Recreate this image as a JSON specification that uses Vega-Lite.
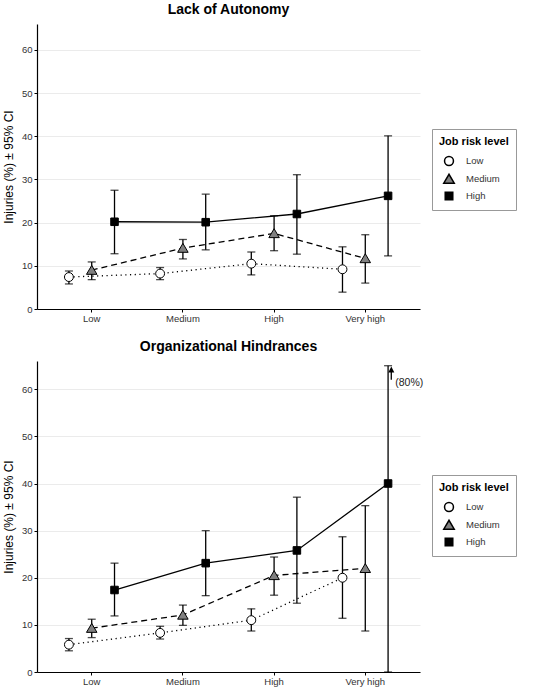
{
  "$schema": "https://vega.github.io/schema/vega-lite/v6.json",
  "padding": {"left": 2, "top": 3, "right": 5, "bottom": 3},
  "datasets": {
    "inj": [
      {"panel": "Lack of Autonomy", "exposure": "Low", "risk": "Low", "pct": 7.4, "lo": 5.8, "hi": 8.8},
      {"panel": "Lack of Autonomy", "exposure": "Medium", "risk": "Low", "pct": 8.2, "lo": 6.8, "hi": 9.6},
      {"panel": "Lack of Autonomy", "exposure": "High", "risk": "Low", "pct": 10.5, "lo": 7.9, "hi": 13.2},
      {"panel": "Lack of Autonomy", "exposure": "Very high", "risk": "Low", "pct": 9.2, "lo": 3.9, "hi": 14.4},
      {"panel": "Lack of Autonomy", "exposure": "Low", "risk": "Medium", "pct": 9.0, "lo": 6.8, "hi": 10.9},
      {"panel": "Lack of Autonomy", "exposure": "Medium", "risk": "Medium", "pct": 14.1, "lo": 11.6, "hi": 16.1},
      {"panel": "Lack of Autonomy", "exposure": "High", "risk": "Medium", "pct": 17.5, "lo": 13.5, "hi": 21.6},
      {"panel": "Lack of Autonomy", "exposure": "Very high", "risk": "Medium", "pct": 11.7, "lo": 6.0, "hi": 17.2},
      {"panel": "Lack of Autonomy", "exposure": "Low", "risk": "High", "pct": 20.2, "lo": 12.8, "hi": 27.5},
      {"panel": "Lack of Autonomy", "exposure": "Medium", "risk": "High", "pct": 20.1, "lo": 13.7, "hi": 26.6},
      {"panel": "Lack of Autonomy", "exposure": "High", "risk": "High", "pct": 22.0, "lo": 12.7, "hi": 31.1},
      {"panel": "Lack of Autonomy", "exposure": "Very high", "risk": "High", "pct": 26.2, "lo": 12.3, "hi": 40.1},
      {"panel": "Organizational Hindrances", "exposure": "Low", "risk": "Low", "pct": 5.8, "lo": 4.5, "hi": 7.1},
      {"panel": "Organizational Hindrances", "exposure": "Medium", "risk": "Low", "pct": 8.3, "lo": 7.0, "hi": 9.7},
      {"panel": "Organizational Hindrances", "exposure": "High", "risk": "Low", "pct": 11.0, "lo": 8.7, "hi": 13.4},
      {"panel": "Organizational Hindrances", "exposure": "Very high", "risk": "Low", "pct": 20.0, "lo": 11.4, "hi": 28.7},
      {"panel": "Organizational Hindrances", "exposure": "Low", "risk": "Medium", "pct": 9.3, "lo": 7.3, "hi": 11.2},
      {"panel": "Organizational Hindrances", "exposure": "Medium", "risk": "Medium", "pct": 12.1, "lo": 9.9, "hi": 14.2},
      {"panel": "Organizational Hindrances", "exposure": "High", "risk": "Medium", "pct": 20.5, "lo": 16.3, "hi": 24.4},
      {"panel": "Organizational Hindrances", "exposure": "Very high", "risk": "Medium", "pct": 22.0, "lo": 8.7, "hi": 35.3},
      {"panel": "Organizational Hindrances", "exposure": "Low", "risk": "High", "pct": 17.4, "lo": 11.9, "hi": 23.1},
      {"panel": "Organizational Hindrances", "exposure": "Medium", "risk": "High", "pct": 23.1, "lo": 16.2, "hi": 30.0},
      {"panel": "Organizational Hindrances", "exposure": "High", "risk": "High", "pct": 25.8, "lo": 14.6, "hi": 37.1},
      {"panel": "Organizational Hindrances", "exposure": "Very high", "risk": "High", "pct": 40.0, "lo": 0, "hi": 65.0}
    ],
    "note": [
      {"panel": "Organizational Hindrances", "exposure": "Very high", "risk": "High", "lo": 62.0, "hi": 64.2, "label": "(80%)"}
    ]
  },
  "vconcat": [
    {
      "title": "Lack of Autonomy",
      "width": 383,
      "height": 285,
      "data": {"name": "inj"},
      "transform": [{"filter": "datum.panel === 'Lack of Autonomy'"}],
      "encoding": {
        "x": {
          "field": "exposure",
          "type": "nominal",
          "sort": ["Low", "Medium", "High", "Very high"],
          "scale": {"type": "band", "paddingInner": 0, "paddingOuter": 0.1},
          "axis": {"title": null, "labelAngle": 0}
        },
        "xOffset": {
          "field": "risk",
          "type": "nominal",
          "scale": {"type": "point", "padding": 1.68, "domain": ["Low", "Medium", "High"]}
        },
        "y": {"field": "pct", "type": "quantitative", "title": "Injuries (%)  ± 95% CI",
              "scale": {"domain": [0, 66], "nice": false},
              "axis": {"values": [0, 10, 20, 30, 40, 50, 60]}}
      },
      "layer": [
        {
          "transform": [{"filter": "datum.risk === 'Low'"}],
          "mark": {"type": "line", "color": "black", "strokeWidth": 1.3, "strokeDash": [1.2, 3.5]}
        },
        {
          "transform": [{"filter": "datum.risk === 'Medium'"}],
          "mark": {"type": "line", "color": "black", "strokeWidth": 1.3, "strokeDash": [6, 4]}
        },
        {
          "transform": [{"filter": "datum.risk === 'High'"}],
          "mark": {"type": "line", "color": "black", "strokeWidth": 1.3}
        },
        {
          "mark": {"type": "rule", "color": "black", "strokeWidth": 1.3},
          "encoding": {
            "y": {"field": "lo", "type": "quantitative", "title": "Injuries (%)  ± 95% CI"},
            "y2": {"field": "hi"}
          }
        },
        {
          "mark": {"type": "tick", "color": "black", "size": 8, "thickness": 1.3, "orient": "horizontal"},
          "encoding": {"y": {"field": "lo", "type": "quantitative", "title": "Injuries (%)  ± 95% CI"}}
        },
        {
          "mark": {"type": "tick", "color": "black", "size": 8, "thickness": 1.3, "orient": "horizontal"},
          "encoding": {"y": {"field": "hi", "type": "quantitative", "title": "Injuries (%)  ± 95% CI"}}
        },
        {
          "mark": {"type": "point", "filled": true, "size": 110, "stroke": "black", "strokeWidth": 1, "opacity": 1},
          "encoding": {
            "fill": {"field": "risk", "type": "nominal",
                     "scale": {"domain": ["Low", "Medium", "High"], "range": ["white", "#808080", "black"]},
                     "legend": {"title": "Job risk level", "orient": "none", "legendX": 395, "legendY": 105,
                                "encode": {"symbols": {
                                  "enter": {"shape": {"signal": "datum.value === 'Low' ? 'M-0.85,0A0.85,0.85 0 1,0 0.85,0A0.85,0.85 0 1,0 -0.85,0ZM-1.65,0H-1.45M1.45,0H1.65' : datum.value === 'Medium' ? 'M-1,0.8L1,0.8L0,-0.9ZM-1.8,0.25H-0.68M0.68,0.25H1.8' : 'M-0.72,-0.72H0.72V0.72H-0.72ZM-1.8,0H-0.72M0.72,0H1.8'"}},
                                  "update": {
                                  "stroke": {"value": "black"}, "strokeWidth": {"value": 1.2},
                                  "shape": {"signal": "datum.value === 'Low' ? 'M-0.85,0A0.85,0.85 0 1,0 0.85,0A0.85,0.85 0 1,0 -0.85,0ZM-1.65,0H-1.45M1.45,0H1.65' : datum.value === 'Medium' ? 'M-1,0.8L1,0.8L0,-0.9ZM-1.8,0.25H-0.68M0.68,0.25H1.8' : 'M-0.72,-0.72H0.72V0.72H-0.72ZM-1.8,0H-0.72M0.72,0H1.8'"}}}}}},
            "shape": {"field": "risk", "type": "nominal",
                      "scale": {"domain": ["Low", "Medium", "High"],
                                "range": ["M-0.85,0A0.85,0.85 0 1,0 0.85,0A0.85,0.85 0 1,0 -0.85,0Z", "M-1,0.8L1,0.8L0,-0.9Z", "M-0.72,-0.72H0.72V0.72H-0.72Z"]},
                      "legend": {"title": "Job risk level", "orient": "none", "legendX": 395, "legendY": 105,
                                 "encode": {"symbols": {
                                   "enter": {"shape": {"signal": "datum.value === 'Low' ? 'M-0.85,0A0.85,0.85 0 1,0 0.85,0A0.85,0.85 0 1,0 -0.85,0ZM-1.65,0H-1.45M1.45,0H1.65' : datum.value === 'Medium' ? 'M-1,0.8L1,0.8L0,-0.9ZM-1.8,0.25H-0.68M0.68,0.25H1.8' : 'M-0.72,-0.72H0.72V0.72H-0.72ZM-1.8,0H-0.72M0.72,0H1.8'"}},
                                   "update": {
                                   "stroke": {"value": "black"}, "strokeWidth": {"value": 1.2},
                                   "shape": {"signal": "datum.value === 'Low' ? 'M-0.85,0A0.85,0.85 0 1,0 0.85,0A0.85,0.85 0 1,0 -0.85,0ZM-1.65,0H-1.45M1.45,0H1.65' : datum.value === 'Medium' ? 'M-1,0.8L1,0.8L0,-0.9ZM-1.8,0.25H-0.68M0.68,0.25H1.8' : 'M-0.72,-0.72H0.72V0.72H-0.72ZM-1.8,0H-0.72M0.72,0H1.8'"}}}}}}
          }
        }
      ]
    },
    {
      "title": "Organizational Hindrances",
      "width": 383,
      "height": 311,
      "encoding": {
        "x": {
          "field": "exposure",
          "type": "nominal",
          "sort": ["Low", "Medium", "High", "Very high"],
          "scale": {"type": "band", "paddingInner": 0, "paddingOuter": 0.1},
          "axis": {"title": null, "labelAngle": 0}
        },
        "y": {"field": "pct", "type": "quantitative", "title": "Injuries (%)  ± 95% CI",
              "scale": {"domain": [0, 66], "nice": false},
              "axis": {"values": [0, 10, 20, 30, 40, 50, 60]}}
      },
      "layer": [
        {
          "data": {"name": "inj"},
          "transform": [{"filter": "datum.panel === 'Organizational Hindrances'"}],
          "encoding": {
            "xOffset": {
              "field": "risk",
              "type": "nominal",
              "scale": {"type": "point", "padding": 1.68, "domain": ["Low", "Medium", "High"]}
            }
          },
          "layer": [
            {
              "transform": [{"filter": "datum.risk === 'Low'"}],
              "mark": {"type": "line", "color": "black", "strokeWidth": 1.3, "strokeDash": [1.2, 3.5]}
            },
            {
              "transform": [{"filter": "datum.risk === 'Medium'"}],
              "mark": {"type": "line", "color": "black", "strokeWidth": 1.3, "strokeDash": [6, 4]}
            },
            {
              "transform": [{"filter": "datum.risk === 'High'"}],
              "mark": {"type": "line", "color": "black", "strokeWidth": 1.3}
            },
            {
              "mark": {"type": "rule", "color": "black", "strokeWidth": 1.3},
              "encoding": {
                "y": {"field": "lo", "type": "quantitative", "title": "Injuries (%)  ± 95% CI"},
                "y2": {"field": "hi"}
              }
            },
            {
              "mark": {"type": "tick", "color": "black", "size": 8, "thickness": 1.3, "orient": "horizontal"},
              "encoding": {"y": {"field": "lo", "type": "quantitative", "title": "Injuries (%)  ± 95% CI"}}
            },
            {
              "mark": {"type": "tick", "color": "black", "size": 8, "thickness": 1.3, "orient": "horizontal"},
              "encoding": {"y": {"field": "hi", "type": "quantitative", "title": "Injuries (%)  ± 95% CI"}}
            },
            {
              "mark": {"type": "point", "filled": true, "size": 110, "stroke": "black", "strokeWidth": 1, "opacity": 1},
              "encoding": {
                "fill": {"field": "risk", "type": "nominal",
                         "scale": {"domain": ["Low", "Medium", "High"], "range": ["white", "#808080", "black"]},
                         "legend": {"title": "Job risk level", "orient": "none", "legendX": 395, "legendY": 114,
                                    "encode": {"symbols": {
                                      "enter": {"shape": {"signal": "datum.value === 'Low' ? 'M-0.85,0A0.85,0.85 0 1,0 0.85,0A0.85,0.85 0 1,0 -0.85,0ZM-1.65,0H-1.45M1.45,0H1.65' : datum.value === 'Medium' ? 'M-1,0.8L1,0.8L0,-0.9ZM-1.8,0.25H-0.68M0.68,0.25H1.8' : 'M-0.72,-0.72H0.72V0.72H-0.72ZM-1.8,0H-0.72M0.72,0H1.8'"}},
                                      "update": {
                                      "stroke": {"value": "black"}, "strokeWidth": {"value": 1.2},
                                      "shape": {"signal": "datum.value === 'Low' ? 'M-0.85,0A0.85,0.85 0 1,0 0.85,0A0.85,0.85 0 1,0 -0.85,0ZM-1.65,0H-1.45M1.45,0H1.65' : datum.value === 'Medium' ? 'M-1,0.8L1,0.8L0,-0.9ZM-1.8,0.25H-0.68M0.68,0.25H1.8' : 'M-0.72,-0.72H0.72V0.72H-0.72ZM-1.8,0H-0.72M0.72,0H1.8'"}}}}}},
                "shape": {"field": "risk", "type": "nominal",
                          "scale": {"domain": ["Low", "Medium", "High"],
                                    "range": ["M-0.85,0A0.85,0.85 0 1,0 0.85,0A0.85,0.85 0 1,0 -0.85,0Z", "M-1,0.8L1,0.8L0,-0.9Z", "M-0.72,-0.72H0.72V0.72H-0.72Z"]},
                          "legend": {"title": "Job risk level", "orient": "none", "legendX": 395, "legendY": 114,
                                     "encode": {"symbols": {
                                       "enter": {"shape": {"signal": "datum.value === 'Low' ? 'M-0.85,0A0.85,0.85 0 1,0 0.85,0A0.85,0.85 0 1,0 -0.85,0ZM-1.65,0H-1.45M1.45,0H1.65' : datum.value === 'Medium' ? 'M-1,0.8L1,0.8L0,-0.9ZM-1.8,0.25H-0.68M0.68,0.25H1.8' : 'M-0.72,-0.72H0.72V0.72H-0.72ZM-1.8,0H-0.72M0.72,0H1.8'"}},
                                       "update": {
                                       "stroke": {"value": "black"}, "strokeWidth": {"value": 1.2},
                                       "shape": {"signal": "datum.value === 'Low' ? 'M-0.85,0A0.85,0.85 0 1,0 0.85,0A0.85,0.85 0 1,0 -0.85,0ZM-1.65,0H-1.45M1.45,0H1.65' : datum.value === 'Medium' ? 'M-1,0.8L1,0.8L0,-0.9ZM-1.8,0.25H-0.68M0.68,0.25H1.8' : 'M-0.72,-0.72H0.72V0.72H-0.72ZM-1.8,0H-0.72M0.72,0H1.8'"}}}}}}
              }
            }
          ]
        },
        {
          "data": {"name": "note"},
          "layer": [
            {
              "mark": {"type": "rule", "color": "black", "strokeWidth": 1.3, "xOffset": 26},
              "encoding": {
                "y": {"field": "lo", "type": "quantitative", "title": "Injuries (%)  ± 95% CI"},
                "y2": {"field": "hi"}
              }
            },
            {
              "mark": {"type": "point", "shape": "M-1,1L1,1L0,-1Z", "filled": true, "color": "black", "size": 36, "opacity": 1, "xOffset": 26},
              "encoding": {"y": {"field": "hi", "type": "quantitative", "title": "Injuries (%)  ± 95% CI"}}
            },
            {
              "mark": {"type": "text", "align": "left", "baseline": "middle", "fontSize": 10.5, "color": "#222", "dx": 30, "dy": 3},
              "encoding": {
                "y": {"field": "lo", "type": "quantitative", "title": "Injuries (%)  ± 95% CI"},
                "text": {"field": "label"}
              }
            }
          ]
        }
      ]
    }
  ],
  "resolve": {
    "scale": {"fill": "independent", "shape": "independent"},
    "legend": {"fill": "independent", "shape": "independent"}
  },
  "spacing": 17,
  "config": {
    "font": "Liberation Sans",
    "view": {"stroke": null},
    "axis": {
      "domainColor": "black",
      "domainWidth": 1.2,
      "tickColor": "black",
      "tickSize": 3,
      "labelColor": "#333",
      "labelFontSize": 9.5,
      "labelPadding": 2,
      "titleFontWeight": "normal",
      "titleFontSize": 12,
      "titleColor": "black",
      "gridColor": "#ebebeb"
    },
    "axisX": {"grid": false, "labelPadding": 1},
    "axisY": {"grid": true, "titlePadding": 6},
    "title": {"fontSize": 14, "fontWeight": "bold", "anchor": "middle", "offset": 7, "color": "black"},
    "legend": {
      "fillColor": "white",
      "strokeColor": "#999",
      "padding": 7,
      "titleFontSize": 11,
      "titleFontWeight": "bold",
      "titleColor": "black",
      "titlePadding": 8,
      "labelFontSize": 9.5,
      "labelColor": "#333",
      "labelOffset": 11,
      "symbolSize": 110,
      "symbolOffset": 4,
      "rowPadding": 2
    }
  }
}
